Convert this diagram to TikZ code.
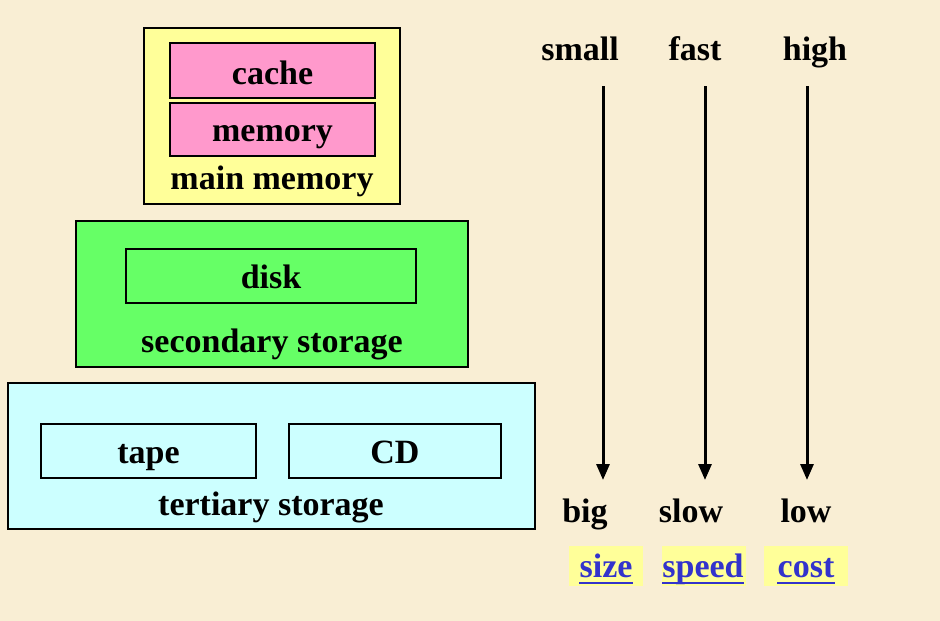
\documentclass[tikz,border=0pt]{standalone}
\usepackage{fontspec}
\setmainfont{Liberation Serif}
\usetikzlibrary{arrows.meta}
\definecolor{bg}{RGB}{249,238,212}
\definecolor{mmyellow}{RGB}{255,255,153}
\definecolor{pinkbox}{RGB}{255,153,204}
\definecolor{greenbox}{RGB}{102,255,102}
\definecolor{cyanbox}{RGB}{204,255,255}
\definecolor{linkblue}{RGB}{51,51,204}
\begin{document}
\begin{tikzpicture}[x=1pt,y=-1pt,
  every node/.style={font=\fontsize{34}{40}\selectfont\bfseries, inner sep=0pt},
  box/.style={draw=black, line width=2.6pt, rectangle},
  lbl/.style={anchor=base},
  arr/.style={line width=3pt, -{Triangle[length=16pt,width=13pt]}},
  tag/.style={fill=mmyellow, minimum height=40pt},
  link/.style={anchor=base, text=linkblue},
  uline/.style={draw=linkblue, line width=1.6pt}
]
\useasboundingbox (0,0) rectangle (940,621);
\fill[bg] (0,0) rectangle (940,621);

% main memory
\node[box, fill=mmyellow, minimum width=256pt, minimum height=176pt] (mm) at (272,116) {};
\node[box, fill=pinkbox, minimum width=205pt, minimum height=55pt] (cachebox) at (272.5,70.5) {};
\node[lbl] (cache) at (272.5,84) {cache};
\node[box, fill=pinkbox, minimum width=205pt, minimum height=53pt] (membox) at (272.5,129.5) {};
\node[lbl] (memory) at (272.5,141) {memory};
\node[lbl] (mmlbl) at (272,189) {main memory};

% secondary storage
\node[box, fill=greenbox, minimum width=392pt, minimum height=146pt] (sec) at (272,294) {};
\node[box, fill=greenbox, minimum width=290pt, minimum height=54pt] (diskbox) at (271,276) {};
\node[lbl] (disk) at (271,288) {disk};
\node[lbl] (seclbl) at (272,352) {secondary storage};

% tertiary storage
\node[box, fill=cyanbox, minimum width=527pt, minimum height=146pt] (ter) at (271.5,456) {};
\node[box, fill=cyanbox, minimum width=215pt, minimum height=54pt] (tapebox) at (148.5,451) {};
\node[lbl] (tape) at (148.5,463) {tape};
\node[box, fill=cyanbox, minimum width=212pt, minimum height=54pt] (cdbox) at (395,451) {};
\node[lbl] (cd) at (395,463) {CD};
\node[lbl] (terlbl) at (271,515) {tertiary storage};

% right side labels
\node[lbl] (small) at (580,60) {small};
\node[lbl] (fast) at (695,60) {fast};
\node[lbl] (high) at (815,60) {high};
\node[lbl] (big) at (585,522) {big};
\node[lbl] (slow) at (691,522) {slow};
\node[lbl] (low) at (806,522) {low};

\coordinate (s1) at (603,86); \coordinate (e1) at (603,480);
\coordinate (s2) at (705,86); \coordinate (e2) at (705,480);
\coordinate (s3) at (807,86); \coordinate (e3) at (807,480);
\draw[arr] (s1) -- (e1);
\draw[arr] (s2) -- (e2);
\draw[arr] (s3) -- (e3);

\node[tag, minimum width=74pt] (sizebox) at (606,566) {};
\node[tag, minimum width=84pt] (speedbox) at (704,566) {};
\node[tag, minimum width=84pt] (costbox) at (806,566) {};
\node[link] (size) at (606,577) {size};
\node[link] (speed) at (703,577) {speed};
\node[link] (cost) at (806,577) {cost};
\draw[uline] ([yshift=-6pt]size.base west) -- ([yshift=-6pt]size.base east);
\draw[uline] ([yshift=-6pt]speed.base west) -- ([yshift=-6pt]speed.base east);
\draw[uline] ([yshift=-6pt]cost.base west) -- ([yshift=-6pt]cost.base east);
\end{tikzpicture}
\end{document}
